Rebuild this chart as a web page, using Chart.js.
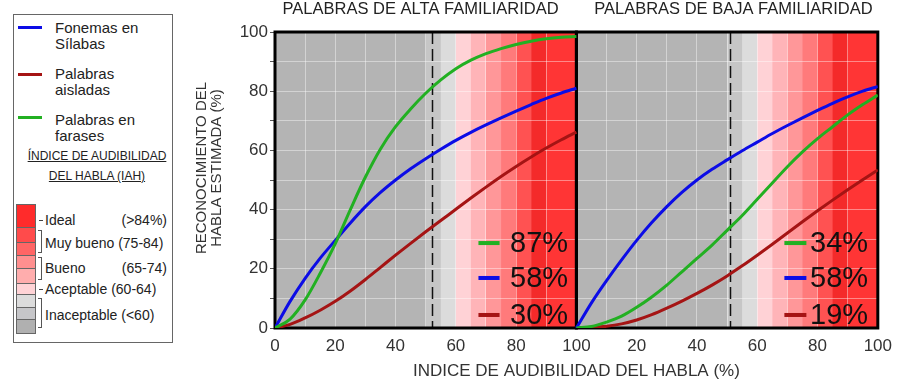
<!DOCTYPE html>
<html>
<head>
<meta charset="utf-8">
<script src="https://cdn.jsdelivr.net/npm/chart.js@4.4.1/dist/chart.umd.min.js"></script>
<style>
  body { margin: 0; background: #fff; width: 900px; height: 387px; overflow: hidden;
         font-family: 'Liberation Sans', Arial, sans-serif; color: #222; }
  #wrap { position: absolute; left: 180px; top: 0; width: 720px; height: 387px; }
  #legend { position: absolute; left: 13px; top: 14px; width: 160px; height: 329px;
            border: 1px solid #666; box-sizing: border-box; }
  .key { position: absolute; left: 4px; width: 24px; height: 3px; }
  .lbl { position: absolute; left: 41px; font-size: 15px; line-height: 16px; white-space: nowrap; }
  .head { position: absolute; left: 8px; width: 150px; top: 131px; font-size: 12px; line-height: 20px;
          text-align: center; text-decoration: underline; }
  .box { position: absolute; left: 2px; width: 20px; border: 1px solid #666; box-sizing: border-box; }
  .brk { position: absolute; left: 24px; width: 3px; border: 1px solid #555; border-left: none; }
  .dash { position: absolute; left: 25px; width: 4px; height: 0; border-top: 1px solid #444; }
  .iah { position: absolute; left: 31px; font-size: 14px; line-height: 16px; white-space: nowrap; }
  .rng { position: absolute; right: 5px; font-size: 14px; line-height: 16px; }
</style>
</head>
<body>
<div id="legend">
  <div class="key" style="top:11px;background:#0c0ce6"></div>
  <div class="lbl" style="top:5px">Fonemas en<br>Sílabas</div>
  <div class="key" style="top:58px;background:#a51414"></div>
  <div class="lbl" style="top:51px">Palabras<br>aisladas</div>
  <div class="key" style="top:101px;background:#22b022"></div>
  <div class="lbl" style="top:97px">Palabras en<br>farases</div>
  <div class="head">ÍNDICE DE AUDIBILIDAD<br>DEL HABLA (IAH)</div>

  <div class="box" style="top:189px;height:24px;background:#ff2b2b"></div>
  <div class="box" style="top:212px;height:16px;background:#ff4b4b"></div>
  <div class="box" style="top:227px;height:14px;background:#ff6565"></div>
  <div class="box" style="top:240px;height:14px;background:#ff8f8f"></div>
  <div class="box" style="top:253px;height:16px;background:#ffadad"></div>
  <div class="box" style="top:268px;height:12px;background:#ffd3d6"></div>
  <div class="box" style="top:279px;height:14px;background:#dcdcdc"></div>
  <div class="box" style="top:292px;height:13px;background:#c6c6c9"></div>
  <div class="box" style="top:304px;height:15px;background:#b0b0b0"></div>

  <div class="dash" style="top:205px"></div>
  <div class="brk" style="top:215px;height:21px"></div>
  <div class="brk" style="top:242px;height:21px"></div>
  <div class="dash" style="top:274px"></div>
  <div class="brk" style="top:283px;height:28px"></div>

  <div class="iah" style="top:197px">Ideal</div><div class="rng" style="top:197px">(&gt;84%)</div>
  <div class="iah" style="top:220px">Muy bueno (75-84)</div>
  <div class="iah" style="top:245px">Bueno</div><div class="rng" style="top:245px">(65-74)</div>
  <div class="iah" style="top:266px">Aceptable (60-64)</div>
  <div class="iah" style="top:292px">Inaceptable (&lt;60)</div>
</div>
<div id="wrap"><canvas id="chart"></canvas></div>
<script>
// IAH (%) sample points, shared by every curve
const iah = [0, 5, 10, 15, 20, 25, 30, 35, 40, 45, 50, 55, 60, 65, 70, 75, 80, 85, 90, 95, 100];

// palabras de alta familiaridad
const altaFonemas  = [0, 9, 16.8, 23.6, 29.6, 35.5, 41, 45.8, 50, 53.8, 57.2, 60.4, 63.4, 66.1, 68.6, 71, 73.3, 75.5, 77.6, 79.4, 81];
const altaAisladas = [0, 1.2, 3.4, 6, 9, 12.5, 16.4, 20.5, 24.6, 28.6, 32.5, 36.3, 40.1, 43.9, 47.6, 51.2, 54.6, 57.8, 60.8, 63.6, 66.2];
const altaFrases   = [0, 3, 9.5, 18.5, 28.5, 40, 51, 60.5, 68, 74, 79.3, 83.8, 87.6, 90.5, 92.7, 94.4, 95.8, 96.9, 97.7, 98.2, 98.5];

// palabras de baja familiaridad
const bajaFonemas  = [0, 8.5, 16, 23, 29.6, 35.6, 41, 45.8, 50, 53.6, 56.8, 59.9, 62.8, 65.7, 68.4, 71, 73.5, 75.9, 78.1, 80, 81.6];
const bajaAisladas = [0, 0.2, 0.6, 1.4, 2.7, 4.5, 6.7, 9.1, 11.7, 14.5, 17.6, 21, 24.6, 28.3, 32.1, 35.9, 39.6, 43.2, 46.7, 50.1, 53.4];
const bajaFrases   = [0, 0.5, 2, 4, 7, 10.5, 14.5, 19, 23.5, 28, 33, 38, 43.5, 49, 54.5, 59.5, 64, 68, 72, 75.5, 78.7];

const panelTitles = ['PALABRAS DE ALTA FAMILIARIDAD', 'PALABRAS DE BAJA FAMILIARIDAD'];
const altaScores = ['87%', '58%', '30%'];   // frases, fonemas, aisladas
const bajaScores = ['34%', '58%', '19%'];
const cutoff = [52, 51];                      // dashed IAH line in each panel

// IAH quality bands behind the curves
const bandEdges = [0, 50, 55, 60, 65, 70, 75, 80, 85, 90, 100];
const bandColors = ['#b4b4b4', '#c6c6c6', '#dcdcdc', '#ffd2d6', '#ffb4b8', '#ff9799',
                    '#ff7a7b', '#ff5252', '#f42a2a', '#ff3535'];

const BLUE = '#0c0ce6', RED = '#a51414', GREEN = '#22b022';
const FONT = "'Liberation Sans', Arial, sans-serif";

function pts(vals, offset) {
  return iah.map((v, i) => ({ x: v + offset, y: vals[i] }));
}
function line(label, vals, offset, color) {
  return { label, data: pts(vals, offset), borderColor: color, borderWidth: 3,
           pointRadius: 0, cubicInterpolationMode: 'monotone', fill: false };
}

const panels = {
  id: 'panels',
  beforeDraw(chart) {
    const { ctx, chartArea: a, scales: { x } } = chart;
    ctx.save();
    [0, 100].forEach(off => {
      for (let i = 0; i < bandColors.length; i++) {
        const x0 = x.getPixelForValue(bandEdges[i] + off);
        const x1 = x.getPixelForValue(bandEdges[i + 1] + off);
        ctx.fillStyle = bandColors[i];
        ctx.fillRect(x0, a.top, x1 - x0 + 0.5, a.bottom - a.top);
      }
    });
    ctx.restore();
  },
  beforeDatasetsDraw(chart) {
    const { ctx, chartArea: a, scales: { x } } = chart;
    ctx.save();
    ctx.strokeStyle = '#111';
    ctx.lineWidth = 1.5;
    ctx.setLineDash([12, 5]);
    [0, 100].forEach((off, k) => {
      const px = Math.round(x.getPixelForValue(cutoff[k] + off)) + 0.5;
      ctx.beginPath(); ctx.moveTo(px, a.top); ctx.lineTo(px, a.bottom); ctx.stroke();
    });
    ctx.setLineDash([]);
    ctx.lineWidth = 3;
    ctx.strokeStyle = '#000';
    [0, 100].forEach(off => {
      const x0 = x.getPixelForValue(off), x1 = x.getPixelForValue(off + 100);
      ctx.strokeRect(x0, a.top, x1 - x0, a.bottom - a.top);
    });
    ctx.restore();
  },
  afterDatasetsDraw(chart) {
    const { ctx, scales: { x, y } } = chart;
    ctx.save();
    ctx.font = '29px ' + FONT;
    ctx.textBaseline = 'middle';
    const colors = [GREEN, BLUE, RED];
    const rowsY = [28.7, 16.9, 4.4];
    [[0, altaScores, 67.5, 74.5, 78], [100, bajaScores, 69, 76.3, 77.5]].forEach(([off, scores, k0, k1, tx]) => {
      scores.forEach((s, i) => {
        const py = y.getPixelForValue(rowsY[i]);
        ctx.fillStyle = colors[i];
        ctx.fillRect(x.getPixelForValue(k0 + off), py - 2, x.getPixelForValue(k1 + off) - x.getPixelForValue(k0 + off), 4);
        ctx.fillStyle = '#111';
        ctx.fillText(s, x.getPixelForValue(tx + off), py + 1);
      });
    });
    ctx.restore();
  },
  afterDraw(chart) {
    const { ctx, chartArea: a, scales: { x } } = chart;
    ctx.save();
    ctx.fillStyle = '#222';
    ctx.textAlign = 'center';
    ctx.textBaseline = 'middle';
    ctx.font = '16.5px ' + FONT;
    ctx.fillText(panelTitles[0], x.getPixelForValue(48.3), 9);
    ctx.fillText(panelTitles[1], x.getPixelForValue(152.1), 9);
    ctx.fillStyle = '#333';
    ctx.font = '17px ' + FONT;
    ctx.fillText('INDICE DE AUDIBILIDAD DEL HABLA (%)', (a.left + a.right) / 2, 371);
    ctx.font = '15px ' + FONT;
    ctx.translate(0, 168);
    ctx.rotate(-Math.PI / 2);
    ctx.fillText('RECONOCIMIENTO DEL', 0, 22);
    ctx.fillText('HABLA ESTIMADA (%)', 0, 37);
    ctx.restore();
  }
};

new Chart(document.getElementById('chart'), {
  type: 'line',
  data: {
    datasets: [
      line('Palabras en frases', altaFrases, 0, GREEN),
      line('Fonemas en sílabas', altaFonemas, 0, BLUE),
      line('Palabras aisladas', altaAisladas, 0, RED),
      line('Palabras en frases', bajaFrases, 100, GREEN),
      line('Fonemas en sílabas', bajaFonemas, 100, BLUE),
      line('Palabras aisladas', bajaAisladas, 100, RED)
    ]
  },
  options: {
    responsive: true,
    maintainAspectRatio: false,
    animation: false,
    layout: { padding: { top: 32, right: 20, left: 0, bottom: 0 } },
    plugins: { legend: { display: false }, tooltip: { enabled: false } },
    scales: {
      x: {
        type: 'linear', min: 0, max: 200,
        afterFit: s => { s.height = 59; },
        border: { display: false },
        grid: { color: 'rgba(255,255,255,0.42)', drawTicks: false },
        ticks: {
          stepSize: 10, autoSkip: false, maxRotation: 0, padding: 8,
          color: '#333', font: { family: FONT, size: 17 },
          callback: v => v % 20 !== 0 ? '' : String(v > 100 ? v - 100 : v)
        }
      },
      y: {
        min: 0, max: 100,
        afterFit: s => { s.width = 95; },
        border: { display: false },
        grid: { color: 'rgba(255,255,255,0.42)', tickColor: '#555', tickLength: 5 },
        ticks: {
          stepSize: 10, padding: 2,
          color: '#333', font: { family: FONT, size: 17 },
          callback: v => v % 20 === 0 ? String(v) : ''
        }
      }
    }
  },
  plugins: [panels]
});
</script>
</body>
</html>
